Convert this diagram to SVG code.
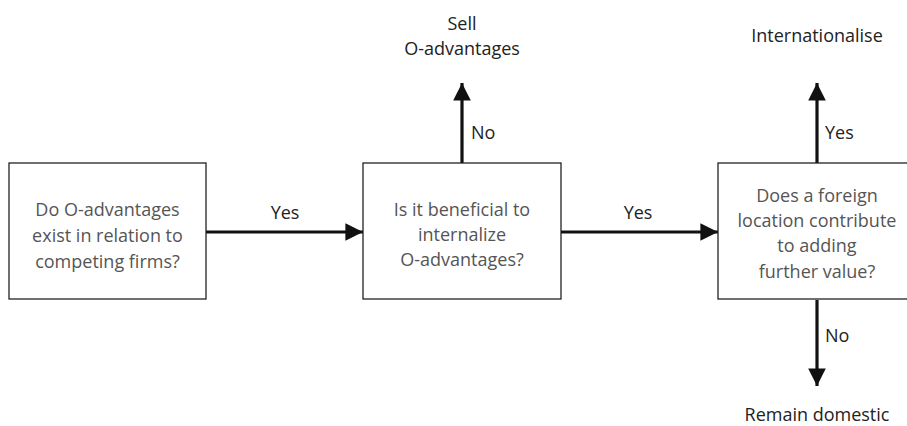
<svg xmlns="http://www.w3.org/2000/svg" width="907" height="426" viewBox="0 0 907 426">
<style>
.box{fill:#fff;stroke:#222;stroke-width:1.3}
.bt{font-family:"Open Sans","Liberation Sans",sans-serif;font-size:18px;fill:#555;text-anchor:middle}
.lb{font-family:"Open Sans","Liberation Sans",sans-serif;font-size:18px;fill:#222}
.ln{stroke:#111;stroke-width:3.2;fill:none}
</style>
<defs>
<marker id="ah" viewBox="0 0 10 10" refX="10" refY="5" markerWidth="5.5" markerHeight="5.5" orient="auto" markerUnits="strokeWidth">
<path d="M0,0 L10,5 L0,10 z" fill="#111"/>
</marker>
</defs>
<g id="connectors">
<line class="ln" x1="206" y1="232" x2="363" y2="232" marker-end="url(#ah)"/>
<line class="ln" x1="561" y1="232" x2="718" y2="232" marker-end="url(#ah)"/>
<line class="ln" x1="462" y1="163" x2="462" y2="83" marker-end="url(#ah)"/>
<line class="ln" x1="817" y1="163" x2="817" y2="83" marker-end="url(#ah)"/>
<line class="ln" x1="817" y1="300" x2="817" y2="386" marker-end="url(#ah)"/>
<text class="lb" x="285" y="219" text-anchor="middle">Yes</text>
<text class="lb" x="638" y="219" text-anchor="middle">Yes</text>
<text class="lb" x="471" y="139">No</text>
<text class="lb" x="825" y="139">Yes</text>
<text class="lb" x="825" y="342">No</text>
</g>
<g id="box1">
<rect class="box" x="9" y="163" width="197" height="136"/>
<text class="bt" x="107.5" y="216">Do O-advantages</text>
<text class="bt" x="107.5" y="242">exist in relation to</text>
<text class="bt" x="107.5" y="268">competing firms?</text>
</g>
<g id="box2">
<rect class="box" x="363" y="163" width="198" height="136"/>
<text class="bt" x="462" y="216">Is it beneficial to</text>
<text class="bt" x="462" y="241">internalize</text>
<text class="bt" x="462" y="266">O-advantages?</text>
</g>
<g id="box3">
<rect class="box" x="718" y="163" width="198" height="136"/>
<text class="bt" x="817" y="202">Does a foreign</text>
<text class="bt" x="817" y="227">location contribute</text>
<text class="bt" x="817" y="252">to adding</text>
<text class="bt" x="817" y="278">further value?</text>
</g>
<g id="sell">
<text class="lb" x="462" y="30" text-anchor="middle">Sell</text>
<text class="lb" x="462" y="55" text-anchor="middle">O-advantages</text>
</g>
<g id="internationalise">
<text class="lb" x="817" y="42" text-anchor="middle">Internationalise</text>
</g>
<g id="domestic">
<text class="lb" x="817" y="421" text-anchor="middle">Remain domestic</text>
</g>
</svg>
